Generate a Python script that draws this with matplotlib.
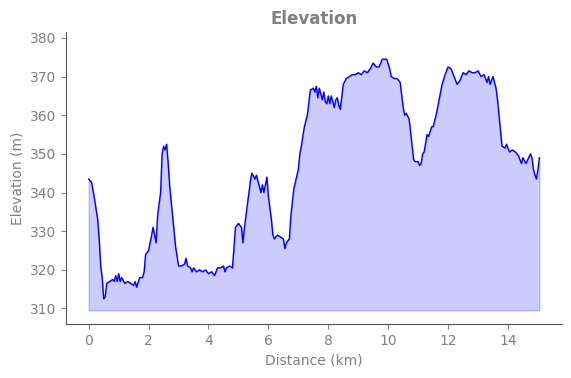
import matplotlib
matplotlib.use("Agg")
import matplotlib.pyplot as plt

# distance along the route (km) and elevation (m)
distance_km = [
    0.0, 0.1, 0.2, 0.3, 0.35, 0.4, 0.45, 0.5, 0.55, 0.6, 0.7, 0.8, 0.85, 0.9, 0.95,
    1.0, 1.05, 1.1, 1.2, 1.3, 1.4, 1.5, 1.55, 1.6, 1.7, 1.8, 1.85, 1.9, 2.0, 2.05,
    2.1, 2.15, 2.25, 2.3, 2.4, 2.45, 2.5, 2.55, 2.6, 2.65, 2.7, 2.8, 2.9, 3.0, 3.1,
    3.2, 3.25, 3.3, 3.4, 3.45, 3.5, 3.6, 3.7, 3.8, 3.9, 4.0, 4.1, 4.2, 4.3, 4.4,
    4.5, 4.55, 4.6, 4.7, 4.8, 4.9, 5.0, 5.1, 5.15, 5.2, 5.3, 5.4, 5.45, 5.55, 5.6,
    5.65, 5.75, 5.8, 5.85, 5.95, 6.0, 6.1, 6.15, 6.2, 6.3, 6.4, 6.5, 6.55, 6.6, 6.7,
    6.75, 6.85, 7.0, 7.05, 7.1, 7.2, 7.3, 7.4, 7.5, 7.55, 7.6, 7.65, 7.7, 7.8, 7.85,
    7.9, 7.95, 8.0, 8.05, 8.1, 8.2, 8.25, 8.3, 8.35, 8.4, 8.5, 8.6, 8.7, 8.8, 8.9,
    9.0, 9.1, 9.2, 9.3, 9.4, 9.5, 9.6, 9.7, 9.8, 9.9, 9.95, 10.05, 10.1, 10.2, 10.3,
    10.4, 10.5, 10.55, 10.6, 10.7, 10.8, 10.85, 10.9, 11.0, 11.05, 11.1, 11.15, 11.2,
    11.3, 11.35, 11.45, 11.5, 11.6, 11.7, 11.8, 11.9, 12.0, 12.1, 12.2, 12.3, 12.4,
    12.5, 12.6, 12.7, 12.8, 12.9, 13.0, 13.1, 13.2, 13.3, 13.35, 13.4, 13.5, 13.55,
    13.6, 13.65, 13.75, 13.8, 13.9, 13.95, 14.05, 14.15, 14.25, 14.35, 14.45, 14.5,
    14.6, 14.75, 14.8, 14.85, 14.9, 14.95, 15.0, 15.05,
]
elevation_m = [
    343.5, 342.5, 338, 333, 328, 321, 318, 312.5, 313, 316.5, 317, 317.5, 317, 318.5, 317,
    319, 317, 318, 316.5, 317, 316.5, 316, 317, 315.5, 318, 318, 319.5, 324, 325, 327,
    329, 331, 327, 334, 340, 350, 352, 351, 352.5, 348, 342, 334, 326, 321, 321,
    321.5, 323, 321, 320.5, 319.5, 320.5, 319.5, 320, 319.5, 320, 319, 319.5, 318.5, 320.5, 320.5,
    321, 319.5, 320.5, 321, 320.5, 331, 332, 331, 327, 331, 337, 343, 345, 343.5, 344.5,
    343, 340, 342, 340, 344, 339, 333, 329, 328, 329, 328.5, 328, 325.5, 327, 328,
    334, 341, 346, 350, 352, 357, 360, 366.5, 367, 366, 367.5, 364.5, 367, 364, 366,
    363.5, 363, 365, 363, 365, 362, 364, 364.5, 362.5, 361.5, 368, 369.5, 370, 370.5, 370.5,
    371, 370.5, 371.5, 371, 372, 373.5, 372.5, 372.5, 374.5, 374.5, 374.5, 372, 370, 369.5, 369.5,
    368.5, 362, 360, 360.5, 359, 352, 348.5, 348, 348, 347, 347.5, 350, 350.5,
    355, 354.5, 357, 357, 360, 364, 368, 370.5, 372.5, 372, 370, 368, 369,
    371, 370.5, 371.5, 371, 371, 371.5, 370, 370.5, 368.5, 370, 368, 370, 368.5,
    367, 364, 356, 352, 351.5, 352.5, 350.5, 351, 350.5, 349.5, 347.5, 349,
    347.5, 350, 349, 346, 344.5, 343.5, 346, 349,
]

baseline = min(elevation_m) - 3   # fill reaches a little below the lowest point

fig, ax = plt.subplots(figsize=(5.71, 3.78), dpi=100)
fig.subplots_adjust(left=0.116, right=0.984, bottom=0.143, top=0.915)

ax.fill_between(distance_km, elevation_m, baseline, color="blue", alpha=0.2)
ax.plot(distance_km, elevation_m, color="blue", linewidth=1)

ax.set_xlim(-0.75, 15.8)
ax.set_ylim(306, 381.5)

ax.set_title("Elevation", color="gray", fontweight="bold", fontsize=12)
ax.set_xlabel("Distance (km)", color="gray")
ax.set_ylabel("Elevation (m)", color="gray")
ax.tick_params(colors="gray")

# only left and bottom axis lines
ax.spines["top"].set_visible(False)
ax.spines["right"].set_visible(False)
ax.spines["left"].set_color("#555555")
ax.spines["bottom"].set_color("#555555")

fig.savefig("out.png")
